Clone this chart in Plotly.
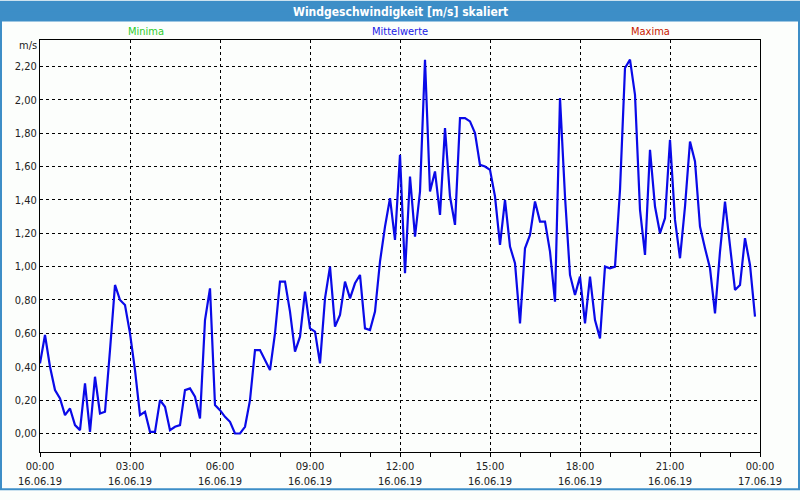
import plotly.graph_objects as go
import pandas as pd

# 10-minute means, 16.06.19 00:00 .. 23:50 (m/s)
start_time = "2019-06-16 00:00"
speed_ms = [
    0.42, 0.59, 0.40, 0.26, 0.21, 0.11, 0.15, 0.05, 0.02, 0.30,
    0.01, 0.34, 0.12, 0.13, 0.50, 0.89, 0.80, 0.77, 0.60, 0.38,
    0.11, 0.13, 0.01, 0.01, 0.20, 0.16, 0.02, 0.04, 0.05, 0.26,
    0.27, 0.22, 0.09, 0.68, 0.87, 0.17,
    0.14, 0.10, 0.07, 0.00, 0.00, 0.04, 0.20, 0.50, 0.50, 0.44,
    0.38, 0.60, 0.91, 0.91, 0.73, 0.49, 0.58, 0.85, 0.63, 0.61,
    0.42, 0.81, 1.00, 0.64, 0.71, 0.91, 0.81, 0.90, 0.95, 0.63,
    0.62, 0.73, 1.03, 1.24, 1.41, 1.16,
    1.67, 0.96, 1.54, 1.18, 1.45, 2.24, 1.45, 1.57, 1.31, 1.83,
    1.42, 1.25, 1.89, 1.89, 1.87, 1.80, 1.61, 1.60, 1.58, 1.42,
    1.13, 1.40, 1.12, 1.02, 0.66, 1.11, 1.19, 1.39, 1.27, 1.27,
    1.09, 0.79, 2.01, 1.42, 0.95, 0.83,
    0.94, 0.66, 0.94, 0.68, 0.57, 1.00, 0.99, 1.00, 1.46, 2.19,
    2.24, 2.03, 1.34, 1.07, 1.70, 1.36, 1.20, 1.29, 1.76, 1.28,
    1.05, 1.36, 1.75, 1.63, 1.24, 1.11, 0.99, 0.72, 1.09, 1.39,
    1.12, 0.86, 0.89, 1.17, 1.01, 0.70,
]
y_ticks = [0.0, 0.2, 0.4, 0.6, 0.8, 1.0, 1.2, 1.4, 1.6, 1.8, 2.0, 2.2]
series_labels = ["Minima", "Mittelwerte", "Maxima"]
series_colors = ["#2ccc2c", "#2020e6", "#c82000"]

times = pd.date_range(start_time, periods=len(speed_ms), freq="10min")
tick_times = pd.date_range("2019-06-16 00:00", "2019-06-17 00:00", freq="3h")
tick_text = [t.strftime("%H:%M") + "<br>" + t.strftime("%d.%m.%y") for t in tick_times]

W, H = 800, 500
L, R, T, B = 40, 40, 40, 39
PW, PH = W - L - R, H - T - B


def px(x):
    return (x - L) / PW


def py(y):
    return (H - B - y) / PH


FONT = "Tahoma, 'DejaVu Sans Condensed', 'DejaVu Sans', sans-serif"
FRAME = "#3d8ec7"

fig = go.Figure()
fig.add_trace(go.Scatter(
    x=times, y=speed_ms, mode="lines",
    line=dict(color="#0a0ae8", width=2.2),
    showlegend=False,
))

fig.update_xaxes(
    range=[tick_times[0], tick_times[-1]],
    tickvals=tick_times, ticktext=tick_text,
    ticks="outside", ticklen=4, tickcolor="black",
    minor=dict(dtick=3600000, ticks="outside", ticklen=4, tickcolor="black", showgrid=False),
    showgrid=True, gridcolor="black", gridwidth=1, griddash="3px,3px",
    showline=True, linecolor="black", linewidth=1, mirror=True,
    zeroline=False,
)
fig.update_yaxes(
    range=[-0.111, 2.358],
    tickvals=y_ticks, tickformat=".2f", ticks="",
    showgrid=True, gridcolor="black", gridwidth=1, griddash="3px,3px",
    showline=True, linecolor="black", linewidth=1, mirror=True,
    zeroline=False,
)

shapes = [
    dict(type="rect", xref="paper", yref="paper",
         x0=px(0), x1=px(800), y0=py(0), y1=py(21),
         fillcolor=FRAME, line=dict(width=0), layer="below"),
    dict(type="rect", xref="paper", yref="paper",
         x0=px(1), x1=px(799), y0=py(10), y1=py(499),
         line=dict(color=FRAME, width=2), layer="below"),
]

annotations = [
    dict(text="<b>Windgeschwindigkeit [m/s] skaliert</b>", xref="paper", yref="paper",
         x=px(400), y=py(11), xanchor="center", yanchor="middle", showarrow=False,
         font=dict(color="white", size=12, family=FONT)),
    dict(text="m/s", xref="paper", yref="paper", x=px(28), y=py(46),
         xanchor="center", yanchor="middle", showarrow=False,
         font=dict(size=11, family=FONT, color="#222")),
]
for label, color, xpos in zip(series_labels, series_colors, [146, 400, 650]):
    annotations.append(dict(text=label, xref="paper", yref="paper", x=px(xpos), y=py(31),
                            xanchor="center", yanchor="middle", showarrow=False,
                            font=dict(size=11, family=FONT, color=color)))

fig.update_layout(
    width=W, height=H, autosize=False,
    margin=dict(l=L, r=R, t=T, b=B),
    paper_bgcolor="#fcfefc", plot_bgcolor="#fcfefc",
    font=dict(family=FONT, size=11, color="#222"),
    separators=",.",
    shapes=shapes, annotations=annotations,
)

# the page body has a default 8px margin; drop it so the chart fills the window
fig.write_html(
    "out.html",
    config={"displayModeBar": False, "responsive": False},
    post_script="document.body.style.margin='0';",
)
